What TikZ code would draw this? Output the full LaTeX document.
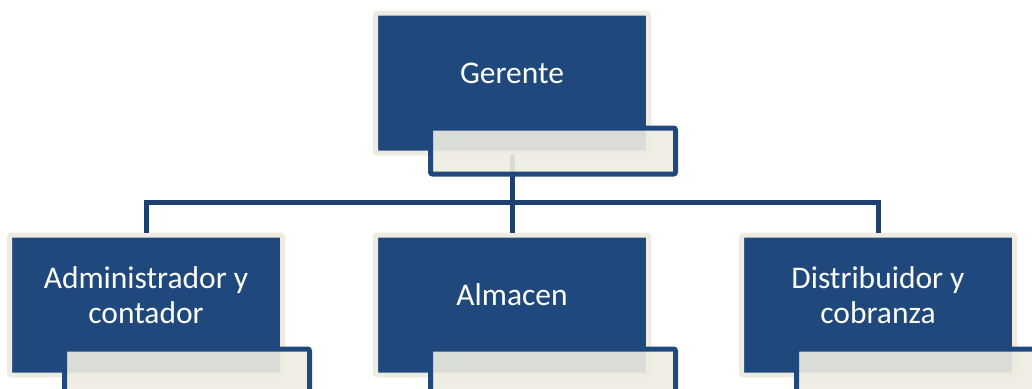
\documentclass[tikz,border=0pt]{standalone}
\usepackage{fontspec}
\setmainfont{Carlito}
\definecolor{boxblue}{HTML}{1F497D}
\definecolor{lineblue}{HTML}{1E406F}
\definecolor{cream}{HTML}{EEECE1}
\tikzset{
  orgbox/.style={draw=cream, fill=boxblue, line width=5pt, rounded corners=2pt,
    minimum width=273pt, minimum height=140pt, inner sep=0pt},
  subbox/.style={draw=boxblue, fill=cream, fill opacity=0.9, line width=5pt,
    rounded corners=2pt, minimum width=245pt, minimum height=46pt, inner sep=0pt},
  orgtext/.style={text=white, font=\fontsize{31.5}{35}\selectfont, align=center,
    inner sep=0pt, anchor=base},
  conn/.style={draw=lineblue, line width=5pt}
}
\begin{document}
\begin{tikzpicture}[x=1pt,y=-1pt]
\useasboundingbox (0,0) rectangle (1032,388);
\clip (0,0) rectangle (1032,388);
% boxes
\node[orgbox] (top) at (512,83) {};
\node[orgbox] (left) at (146,305) {};
\node[orgbox] (mid) at (512,305) {};
\node[orgbox] (right) at (878,305) {};
% connectors (behind overlays)
\coordinate (hub) at (512,202);
\draw[conn] (top.south |- 0,155) -- (hub);
\draw[conn] (left.north) -- (left.north |- hub) -- (right.north |- hub) -- (right.north);
\draw[conn] (hub) -- (mid.north);
% sub boxes
\node[subbox, anchor=north west] (tops) at ([xshift=55pt,yshift=30pt]top.south west) {};
\node[subbox, anchor=north west] (lefts) at ([xshift=55pt,yshift=31pt]left.south west) {};
\node[subbox, anchor=north west] (mids) at ([xshift=55pt,yshift=31pt]mid.south west) {};
\node[subbox, anchor=north west] (rights) at ([xshift=55pt,yshift=31pt]right.south west) {};
% texts
\node[orgtext] (topt) at (512,83) {Gerente};
\node[orgtext] (leftt) at (146,323) {Administrador y\\contador};
\node[orgtext] (midt) at (512,305) {Almacen};
\node[orgtext] (rightt) at (878,323) {Distribuidor y\\cobranza};
\end{tikzpicture}
\end{document}
